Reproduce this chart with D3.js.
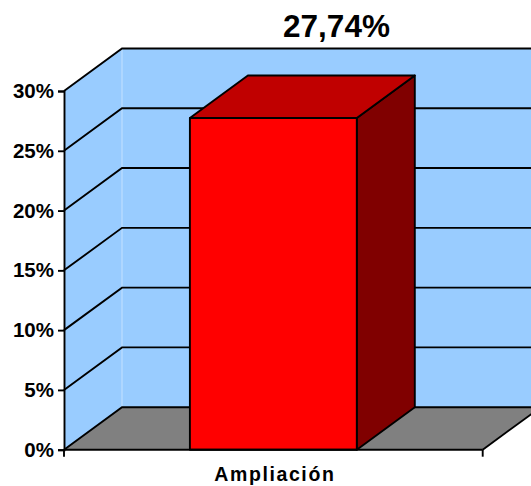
<!DOCTYPE html>
<html><head><meta charset="utf-8">
<script src="https://cdn.jsdelivr.net/npm/d3@7"></script>
<style>html,body{margin:0;padding:0;background:#fff}svg{display:block}text{font-family:"Liberation Sans",Arial,sans-serif;font-weight:bold;fill:#000}</style>
</head><body><svg id="c" width="531" height="486"></svg>
<script>
const categories = ["Ampliación"];
const values = [27.74];
const valueLabels = ["27,74%"];
const yTicks = [0, 5, 10, 15, 20, 25, 30];
const W = 531, H = 486;
const svg = d3.select("#c").attr("viewBox", [0, 0, W, H]);
const dx = 58, dy = -42.5;
const x = d3.scaleBand().domain(categories).range([64, 482.7]).padding(0.43);
const y = d3.scaleLinear().domain([0, 30]).range([449.7, 91]);
const x0 = x.range()[0], x1 = x.range()[1];
const poly = pts => pts.map(p => p.join(",")).join(" ");
const ink = "#000";
const sw = 1.9;
const yMax = y(30), yMin = y(0);

// walls
svg.append("polygon").attr("fill", "#99CCFF")
  .attr("points", poly([[x0, yMin], [x0, yMax], [x0 + dx, yMax + dy], [x1 + dx, yMax + dy], [x1 + dx, yMin + dy], [x0 + dx, yMin + dy]]));
svg.append("line").attr("x1", x0 + dx).attr("x2", x0 + dx).attr("y1", yMax + dy).attr("y2", yMin + dy)
  .attr("stroke", "#C4E1FF").attr("stroke-width", 1);
// floor
svg.append("polygon").attr("fill", "#808080")
  .attr("points", poly([[x0, yMin], [x0 + dx, yMin + dy], [x1 + dx, yMin + dy], [x1, yMin]]));
svg.append("line").attr("x1", x1).attr("y1", yMin).attr("x2", x1 + dx).attr("y2", yMin + dy)
  .attr("stroke", ink).attr("stroke-width", sw);

// gridlines
svg.append("g").selectAll("polyline").data(yTicks).join("polyline")
  .attr("fill", "none").attr("stroke", ink).attr("stroke-width", sw)
  .attr("points", d => poly([[x0, y(d)], [x0 + dx, y(d) + dy], [x1 + dx, y(d) + dy]]));

// bar
const bar = svg.append("g").selectAll("g").data(categories).join("g");
const bw = x.bandwidth();
const cuboid = (c, i, fn, fill) => bar.filter(d => d === c).append("polygon")
  .attr("fill", fill).attr("stroke", ink).attr("stroke-width", sw).attr("stroke-linejoin", "round")
  .attr("points", poly(fn(x(c), y(values[i]))));
categories.forEach((c, i) => {
  cuboid(c, i, (l, t) => [[l + bw, t], [l + bw + dx, t + dy], [l + bw + dx, yMin + dy], [l + bw, yMin]], "#800000");
  cuboid(c, i, (l, t) => [[l, t], [l + dx, t + dy], [l + bw + dx, t + dy], [l + bw, t]], "#C00000");
  cuboid(c, i, (l, t) => [[l, t], [l + bw, t], [l + bw, yMin], [l, yMin]], "#FF0000");
});

// axes
const yAxis = d3.axisLeft(y).tickValues(yTicks).tickFormat(d => d + "%").tickSize(6).tickPadding(4);
const gy = svg.append("g").attr("transform", `translate(${x0},0)`).call(yAxis);
gy.select(".domain").attr("stroke", ink).attr("stroke-width", sw);
gy.selectAll(".tick line").attr("stroke", ink).attr("stroke-width", sw);
gy.selectAll("text").attr("font-size", 20.5).attr("font-family", '"Liberation Sans",Arial,sans-serif').attr("font-weight", "bold").attr("fill", "#000");

const xAxis = d3.axisBottom(x).tickSize(0).tickPadding(17);
const gx = svg.append("g").attr("transform", `translate(1.5,${yMin})`).call(xAxis);
gx.select(".domain").remove();
gx.selectAll("text").attr("font-size", 19.5).attr("letter-spacing", 1.6).attr("font-family", '"Liberation Sans",Arial,sans-serif').attr("font-weight", "bold").attr("fill", "#000");
[x0, x1].forEach(v => svg.append("line").attr("x1", v).attr("x2", v).attr("y1", yMin).attr("y2", yMin + 7)
  .attr("stroke", ink).attr("stroke-width", sw));
svg.append("line").attr("x1", x0).attr("x2", x1).attr("y1", yMin).attr("y2", yMin).attr("stroke", ink).attr("stroke-width", sw);

// value label
svg.append("g").selectAll("text").data(values).join("text")
  .attr("x", 336.5).attr("y", 37).attr("text-anchor", "middle").attr("font-size", 31.5)
  .text((d, i) => valueLabels[i]);
</script></body></html>
